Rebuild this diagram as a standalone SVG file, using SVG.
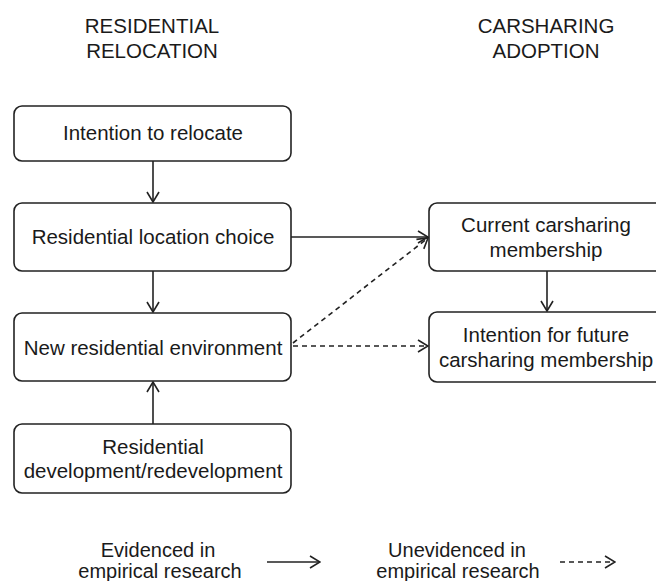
<svg xmlns="http://www.w3.org/2000/svg" width="656" height="581" viewBox="0 0 656 581">
<style>
.box{fill:#fff;stroke:#222;stroke-width:1.6}
.t{font-family:"Liberation Sans",Arial,sans-serif;font-size:20.5px;fill:#1a1a1a;text-anchor:middle}
.l{font-family:"Liberation Sans",Arial,sans-serif;font-size:20px;fill:#1a1a1a;text-anchor:middle}
.h{font-family:"Liberation Sans",Arial,sans-serif;font-size:20.5px;fill:#1a1a1a;text-anchor:middle}
.c{fill:none;stroke:#222;stroke-width:1.6}
.d{fill:none;stroke:#222;stroke-width:1.6;stroke-dasharray:5 4}
</style>
<defs>
<marker id="ah" viewBox="0 0 12 14" refX="11" refY="7" markerWidth="12" markerHeight="14" markerUnits="userSpaceOnUse" orient="auto">
<path d="M1,1 L11,7 L1,13" fill="none" stroke="#222" stroke-width="1.6"/>
</marker>
</defs>
<g id="header-left"><text class="h" x="152" y="33">RESIDENTIAL</text><text class="h" x="152" y="58">RELOCATION</text></g>
<g id="header-right"><text class="h" x="546" y="33">CARSHARING</text><text class="h" x="546" y="58">ADOPTION</text></g>
<g id="n1"><rect class="box" x="14" y="106" width="277" height="55" rx="8"/><text class="t" x="153" y="140">Intention to relocate</text></g>
<g id="n2"><rect class="box" x="14" y="203" width="277" height="68" rx="8"/><text class="t" x="153" y="244">Residential location choice</text></g>
<g id="n3"><rect class="box" x="14" y="313" width="277" height="68" rx="8"/><text class="t" x="153" y="355">New residential environment</text></g>
<g id="n4"><rect class="box" x="14" y="424" width="277" height="69" rx="8"/><text class="t" x="153" y="454">Residential</text><text class="t" x="153" y="478">development/redevelopment</text></g>
<g id="n5"><rect class="box" x="429" y="203" width="240" height="68" rx="8"/><text class="t" x="546" y="232">Current carsharing</text><text class="t" x="546" y="257">membership</text></g>
<g id="n6"><rect class="box" x="429" y="312" width="240" height="70" rx="8"/><text class="t" x="546" y="342">Intention for future</text><text class="t" x="546" y="367">carsharing membership</text></g>
<g id="legend"><text class="l" x="158" y="557">Evidenced in</text><text class="l" x="160" y="578">empirical research</text><text class="l" x="457" y="557">Unevidenced in</text><text class="l" x="458" y="578">empirical research</text></g>
<g id="connectors">
<line class="c" x1="153" y1="161" x2="153" y2="202" marker-end="url(#ah)"/>
<line class="c" x1="153" y1="271" x2="153" y2="312" marker-end="url(#ah)"/>
<line class="c" x1="153" y1="424" x2="153" y2="382" marker-end="url(#ah)"/>
<line class="c" x1="291" y1="237" x2="428" y2="237" marker-end="url(#ah)"/>
<line class="c" x1="547" y1="271" x2="547" y2="311" marker-end="url(#ah)"/>
<line class="d" x1="293" y1="343" x2="428" y2="238" marker-end="url(#ah)"/>
<line class="d" x1="293" y1="346" x2="428" y2="346" marker-end="url(#ah)"/>
<line class="c" x1="267" y1="562" x2="320" y2="562" marker-end="url(#ah)"/>
<line class="d" x1="560" y1="562" x2="615" y2="562" marker-end="url(#ah)"/>
</g>
</svg>
